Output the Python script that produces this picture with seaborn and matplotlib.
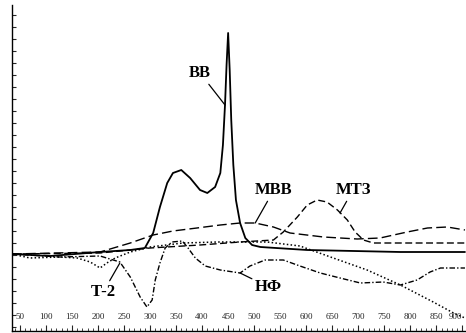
import matplotlib
matplotlib.use("Agg")
import matplotlib.pyplot as plt
import seaborn as sns
import pandas as pd

# temperature (deg C) and DTA signal (arbitrary units)
bb_t = [35, 108, 204, 262, 290, 306, 319, 333, 344, 360, 377, 396, 410, 425, 435, 440, 444, 447,
        450, 453, 456, 460, 465, 473, 483, 496, 512, 602, 781, 905]
bb_y = [1, -1, 3, 5, 7, 22, 48, 72, 82, 85, 77, 65, 62, 68, 82, 110, 150, 190,
        222, 185, 135, 90, 55, 32, 17, 10, 8, 5, 3, 3]

mbb_t = [35, 204, 262, 306, 344, 390, 435, 473, 502, 537, 569, 633, 698, 742, 794, 833, 871, 905]
mbb_y = [1, 3, 12, 20, 24, 27, 30, 32, 32, 28, 22, 18, 16, 17, 23, 27, 28, 25]

mt3_t = [35, 204, 300, 396, 473, 537, 556, 583, 602, 621, 640, 660, 679, 694, 710, 729, 794, 905]
mt3_y = [1, 2, 7, 10, 13, 15, 23, 38, 50, 55, 53, 45, 35, 23, 15, 12, 12, 12]

t2_t = [35, 69, 127, 160, 185, 204, 217, 233, 262, 300, 363, 429, 525, 588, 652, 717, 781, 844, 883, 905]
t2_y = [1, -3, -2, -3, -7, -13, -8, -3, 3, 8, 12, 13, 13, 9, -3, -15, -30, -47, -58, -63]

nf_t = [35, 127, 204, 242, 262, 281, 294, 304, 310, 319, 329, 342, 362, 373, 387, 406, 435, 473,
        492, 521, 556, 588, 627, 665, 704, 748, 781, 813, 838, 858, 905]
nf_y = [1, -2, -1, -7, -22, -42, -52, -45, -25, -8, 7, 13, 14, 7, -3, -11, -15, -18,
        -11, -5, -5, -11, -18, -23, -28, -27, -30, -25, -17, -13, -13]

x_ticks = [50, 100, 150, 200, 250, 300, 350, 400, 450, 500, 550, 600, 650, 700, 750, 800, 850, 900]

sns.set_style("white")
plt.rcParams['font.family'] = ['Liberation Serif', 'DejaVu Serif']

fig = plt.figure(figsize=(4.66, 3.33), dpi=100)
ax = fig.add_axes([0.026, 0.006, 0.974, 0.979])

curves = [
    (bb_t, bb_y, "-", 1.3),
    (mbb_t, mbb_y, (0, (7, 3)), 1.0),
    (mt3_t, mt3_y, (0, (5, 2.5)), 1.0),
    (t2_t, t2_y, (0, (1, 1.5)), 1.1),
    (nf_t, nf_y, (0, (4, 1.5, 1, 1.5)), 1.0),
]
for t, y, ls, lw in curves:
    df = pd.DataFrame({"t": t, "y": y})
    sns.lineplot(data=df, x="t", y="y", ax=ax, color="black", linestyle=ls,
                 linewidth=lw, sort=False, estimator=None)

ax.set_xlim(35, 907)
ax.set_ylim(-76, 250)
ax.set_xlabel("")
ax.set_ylabel("")

for side in ["top", "right"]:
    ax.spines[side].set_visible(False)
for side in ["left", "bottom"]:
    ax.spines[side].set_color("black")
    ax.spines[side].set_linewidth(1.0)

ax.set_xticks(x_ticks)
ax.set_xticklabels([str(v) for v in x_ticks])
ax.get_xticklabels()[-1].set_ha("right")
ax.set_xticks(range(40, 910, 10), minor=True)
ax.tick_params(axis="x", which="major", direction="in", length=4, width=0.8,
               pad=-13, labelsize=6.5, bottom=True)
ax.tick_params(axis="x", which="minor", direction="in", length=2, width=0.6, bottom=True)
ax.set_yticks(range(-72, 250, 12))
ax.set_yticklabels([])
ax.tick_params(axis="y", direction="in", length=3, width=0.8, left=True)

lab = dict(fontsize=12, fontweight="bold", color="black", ha="center", va="center")
arrow = dict(arrowstyle="-", color="black", lw=0.9, shrinkA=0, shrinkB=0)
ax.annotate("ВВ", xy=(444, 150), xytext=(396, 182), arrowprops=arrow, **lab)
ax.annotate("МВВ", xy=(502, 32), xytext=(538, 65), arrowprops=arrow, **lab)
ax.annotate("МТЗ", xy=(665, 42), xytext=(690, 65), arrowprops=arrow, **lab)
ax.annotate("Т-2", xy=(242, -8), xytext=(210, -37), arrowprops=arrow, **lab)
ax.annotate("НФ", xy=(473, -18), xytext=(528, -32), arrowprops=arrow, **lab)

fig.savefig("out.png", dpi=100)
